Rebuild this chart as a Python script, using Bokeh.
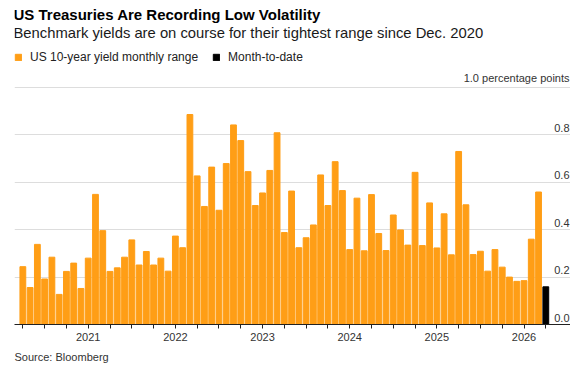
from bokeh.plotting import figure
from bokeh.models import (Range1d, FixedTicker, ColumnDataSource, Label, Legend,
                          LegendItem, Title)
from bokeh.embed import file_html
from bokeh.resources import INLINE
from bokeh.core.properties import value

# ---- data -------------------------------------------------------------
months = ["2020-04", "2020-05", "2020-06", "2020-07", "2020-08", "2020-09",
          "2020-10", "2020-11", "2020-12",
          "2021-01", "2021-02", "2021-03", "2021-04", "2021-05", "2021-06",
          "2021-07", "2021-08", "2021-09", "2021-10", "2021-11", "2021-12",
          "2022-01", "2022-02", "2022-03", "2022-04", "2022-05", "2022-06",
          "2022-07", "2022-08", "2022-09", "2022-10", "2022-11", "2022-12",
          "2023-01", "2023-02", "2023-03", "2023-04", "2023-05", "2023-06",
          "2023-07", "2023-08", "2023-09", "2023-10", "2023-11", "2023-12",
          "2024-01", "2024-02", "2024-03", "2024-04", "2024-05", "2024-06",
          "2024-07", "2024-08", "2024-09", "2024-10", "2024-11", "2024-12",
          "2025-01", "2025-02", "2025-03", "2025-04", "2025-05", "2025-06",
          "2025-07", "2025-08", "2025-09", "2025-10", "2025-11", "2025-12",
          "2026-01", "2026-02", "2026-03"]
monthly_range = [0.244, 0.156, 0.338, 0.192, 0.284, 0.127, 0.224, 0.259, 0.152,
                 0.280, 0.549, 0.396, 0.224, 0.239, 0.284, 0.357, 0.251, 0.308,
                 0.251, 0.280, 0.225,
                 0.373, 0.324, 0.886, 0.627, 0.498, 0.664, 0.482, 0.679, 0.842,
                 0.776, 0.645, 0.502,
                 0.555, 0.650, 0.809, 0.388, 0.563, 0.324, 0.366, 0.420, 0.631,
                 0.502, 0.687, 0.565,
                 0.316, 0.533, 0.311, 0.548, 0.384, 0.312, 0.462, 0.399, 0.335,
                 0.642, 0.333, 0.513,
                 0.323, 0.467, 0.294, 0.730, 0.505, 0.295, 0.309, 0.225, 0.316,
                 0.242, 0.200, 0.182,
                 0.185, 0.360, 0.559]
mtd_month = ["2026-04"]
mtd_range = [0.159]

year_labels = ["2021", "2022", "2023", "2024", "2025", "2026"]
y_ticks = [0.0, 0.2, 0.4, 0.6, 0.8, 1.0]
y_tick_labels = ["0.0", "0.2", "0.4", "0.6", "0.8", "1.0 percentage points"]

title_text = "US Treasuries Are Recording Low Volatility"
subtitle_text = "Benchmark yields are on course for their tightest range since Dec. 2020"
source_text = "Source: Bloomberg"

ORANGE = "#FF9E16"
FONT = "Liberation Sans"

# ---- layout -------------------------------------------------------------
W, H = 570, 368
BOTTOM, LEFT = 44, 14
frame_h = H - BOTTOM          # frame starts at the very top of the figure

# ---- positions derived from data ----------------------------------------
all_months = months + mtd_month
pos = {m: i for i, m in enumerate(all_months)}
src = ColumnDataSource(dict(x=[pos[m] for m in months], top=monthly_range))
src_mtd = ColumnDataSource(dict(x=[pos[m] for m in mtd_month], top=mtd_range))

quarter_ticks = [pos[m] for m in all_months if m[5:] in ("01", "04", "07", "10")]
year_tick_pos = [pos[y + "-01"] for y in year_labels]

x_start = -1.15
x_end = len(all_months) - 1 + 3.4

p = figure(width=W, height=H, output_backend="svg", toolbar_location=None,
           x_range=Range1d(x_start, x_end), y_range=Range1d(0, 1.367),
           min_border_left=LEFT, min_border_right=0, min_border_top=0,
           min_border_bottom=BOTTOM, outline_line_color=None,
           background_fill_color="white", border_fill_color="white")

r1 = p.vbar(x="x", top="top", width=0.8, source=src, color=ORANGE)
r2 = p.vbar(x="x", top="top", width=0.8, source=src_mtd, color="black")

# grid
p.xgrid.visible = False
p.ygrid.ticker = FixedTicker(ticks=y_ticks[1:])
p.ygrid.grid_line_color = "#dddddd"
p.ygrid.grid_line_width = 1
p.yaxis.visible = False

# y labels inside the plot, at the right end
lab_src = ColumnDataSource(dict(x=[x_end] * len(y_ticks), y=y_ticks, t=y_tick_labels))
p.text(x="x", y="y", text="t", source=lab_src, text_align="right",
       text_baseline="bottom", y_offset=-3, x_offset=-1,
       text_font=value(FONT), text_font_size="11px", text_color="#333333")

# x axis
xa = p.xaxis[0]
xa.ticker = FixedTicker(ticks=quarter_ticks)
overrides = {t: "" for t in quarter_ticks}
for t, lab in zip(year_tick_pos, year_labels):
    overrides[t] = lab
xa.major_label_overrides = overrides
xa.axis_line_color = "#222222"
xa.major_tick_line_color = "#222222"
xa.major_tick_out = 4
xa.major_tick_in = 0
xa.minor_tick_line_color = None
xa.major_label_standoff = 4
xa.major_label_text_font = FONT
xa.major_label_text_font_size = "11px"
xa.major_label_text_color = "#333333"

# legend (inside frame, under the subtitle); location = bottom-left in px
legend = Legend(items=[LegendItem(label="US 10-year yield monthly range", renderers=[r1]),
                       LegendItem(label="Month-to-date", renderers=[r2])],
                orientation="horizontal", location=(0, frame_h - 64),
                glyph_width=8, glyph_height=8, label_height=14,
                label_standoff=8, spacing=14, padding=0, margin=0,
                label_text_font=FONT, label_text_font_size="12px",
                label_text_color="#222222", border_line_color=None,
                background_fill_alpha=0)
p.add_layout(legend)

# title and subtitle as screen-positioned labels (y measured up from frame bottom)
p.add_layout(Label(x=-1, y=frame_h - 14, x_units="screen", y_units="screen",
                   text=title_text, text_font=FONT, text_font_size="15px",
                   text_font_style="bold", text_color="#000000",
                   text_baseline="middle"))
p.add_layout(Label(x=-1, y=frame_h - 32, x_units="screen", y_units="screen",
                   text=subtitle_text, text_font=FONT, text_font_size="14.8px",
                   text_color="#1a1a1a", text_baseline="middle"))
p.add_layout(Title(text=source_text, text_font=FONT, text_font_size="11px",
                   text_font_style="normal", text_color="#333333", standoff=10), "below")

open("out.html", "w").write(file_html(p, INLINE))
